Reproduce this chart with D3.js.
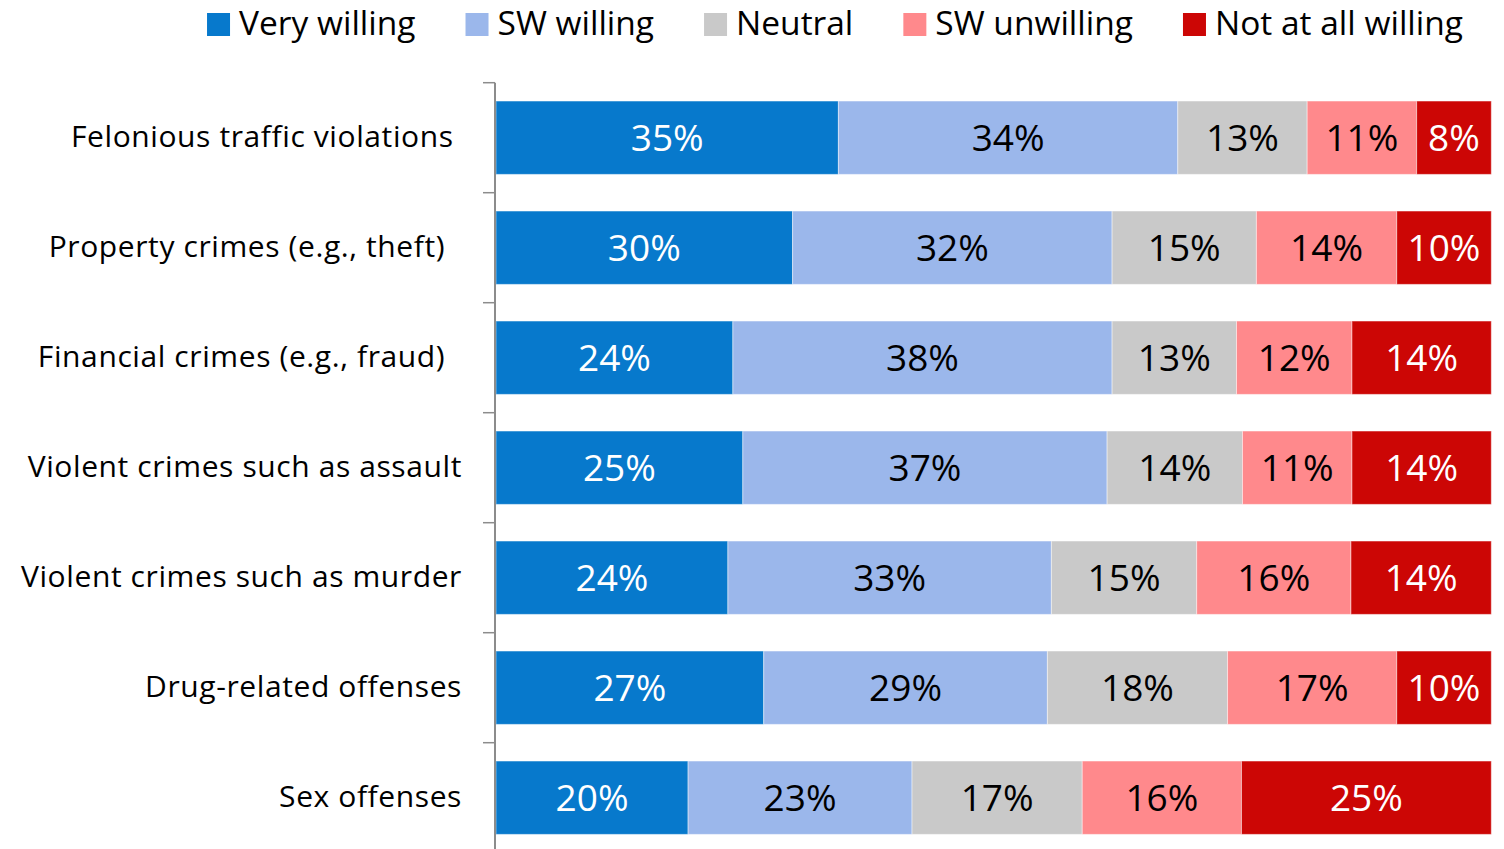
<!DOCTYPE html>
<html>
<head>
<meta charset="utf-8">
<script src="https://cdn.jsdelivr.net/npm/d3@7"></script>
<style>
  body { margin: 0; background: #fff; }
  svg { display: block; font-family: "Open Sans", sans-serif; }
  .cat { white-space: pre; }
</style>
</head>
<body>
<svg id="chart" width="1504" height="849"></svg>
<script>
// data (segment widths in % of the bar; labels as printed)
var categories = ['Felonious traffic violations', 'Property crimes (e.g., theft)', 'Financial crimes (e.g., fraud)',
	'Violent crimes such as assault', 'Violent crimes such as murder', 'Drug-related offenses', 'Sex offenses'];
var catLabels = ['Felonious traffic violations\u00a0', 'Property crimes (e.g., theft)\u00a0\u00a0', 'Financial crimes (e.g., fraud)\u00a0\u00a0',
	'Violent crimes such as assault', 'Violent crimes such as murder', 'Drug-related offenses', 'Sex offenses'];
var seriesNames = ['Very willing', 'SW willing', 'Neutral', 'SW unwilling', 'Not at all willing'];
var veryWilling   = [34.4, 29.8, 23.8, 24.8, 23.3, 26.9, 19.3];
var swWilling     = [34.1, 32.1, 38.1, 36.6, 32.5, 28.5, 22.5];
var neutral       = [13.0, 14.5, 12.5, 13.6, 14.6, 18.1, 17.1];
var swUnwilling   = [11.0, 14.1, 11.6, 11.0, 15.5, 17.0, 16.0];
var notAtAll      = [ 7.5,  9.5, 14.0, 14.0, 14.1,  9.5, 25.1];
var valueLabels = [
	['35%', '30%', '24%', '25%', '24%', '27%', '20%'],
	['34%', '32%', '38%', '37%', '33%', '29%', '23%'],
	['13%', '15%', '13%', '14%', '15%', '18%', '17%'],
	['11%', '14%', '12%', '11%', '16%', '17%', '16%'],
	['8%', '10%', '14%', '14%', '14%', '10%', '25%']
];

var COLORS = ['#0779cc', '#9bb7eb', '#c9c9c9', '#ff898c', '#cc0605'],
	TEXT_COLORS = ['#fff', '#000', '#000', '#000', '#fff'];

var svg = d3.select('#chart');
var m = {t:82.7, l:496, r:12.7},
	W = 1504;

// table for d3.stack
var table = categories.map(function(c, i){
	return {cat:c, s0:veryWilling[i], s1:swWilling[i], s2:neutral[i], s3:swUnwilling[i], s4:notAtAll[i]};
});
var keys = ['s0', 's1', 's2', 's3', 's4'];
var stacked = d3.stack().keys(keys)(table);

var scaleX = d3.scaleLinear().domain([0, 100]).range([m.l, W - m.r]);
var scaleY = d3.scaleBand().domain(categories)
	.range([m.t, m.t + 110 * categories.length])
	.paddingInner(1/3).paddingOuter(1/6);
var bandY = d3.scaleBand().domain(categories).range(scaleY.range());

// bars
var layers = svg.append('g').attr('class', 'bars')
	.selectAll('.layer').data(stacked)
	.enter().append('g').attr('class', 'layer')
	.attr('fill', function(d, i){ return COLORS[i]; });

layers.selectAll('rect')
	.data(function(d){ return d; })
	.enter().append('rect')
	.attr('x', function(d){ return scaleX(d[0]); })
	.attr('y', function(d){ return scaleY(d.data.cat); })
	.attr('width', function(d){ return scaleX(d[1]) - scaleX(d[0]); })
	.attr('height', scaleY.bandwidth())
	.attr('stroke', '#fff').attr('stroke-opacity', 0.45).attr('stroke-width', 1);

// segment labels
layers.each(function(layer, li){
	d3.select(this).selectAll('text')
		.data(layer)
		.enter().append('text')
		.attr('x', function(d){ return (scaleX(d[0]) + scaleX(d[1])) / 2; })
		.attr('y', function(d){ return scaleY(d.data.cat) + scaleY.bandwidth() / 2; })
		.attr('dy', '0.36em')
		.attr('text-anchor', 'middle')
		.attr('font-size', 37)
		.attr('fill', TEXT_COLORS[li])
		.text(function(d, i){ return valueLabels[li][i]; });
});

// y axis: line with ticks at category boundaries
var axisX = m.l - 1;
var axis = svg.append('g').attr('class', 'axis-y');
axis.append('line')
	.attr('x1', axisX).attr('x2', axisX)
	.attr('y1', bandY.range()[0]).attr('y2', bandY.range()[1])
	.attr('stroke', '#8c8c8c').attr('stroke-width', 2);
axis.selectAll('.tick')
	.data(categories)
	.enter().append('line').attr('class', 'tick')
	.attr('x1', axisX - 12).attr('x2', axisX)
	.attr('y1', function(d){ return bandY(d); })
	.attr('y2', function(d){ return bandY(d); })
	.attr('stroke', '#8c8c8c').attr('stroke-width', 1.5);

axis.selectAll('.cat')
	.data(categories)
	.enter().append('text').attr('class', 'cat')
	.attr('x', axisX - 33)
	.attr('y', function(d){ return scaleY(d) + scaleY.bandwidth() / 2; })
	.attr('dy', '0.3em')
	.attr('text-anchor', 'end')
	.attr('font-size', 30)
	.attr('letter-spacing', 0.6)
	.attr('fill', '#000')
	.text(function(d, i){ return catLabels[i]; });

// legend, right aligned
var legend = svg.append('g').attr('class', 'legend');
var items = legend.selectAll('.item').data(seriesNames)
	.enter().append('g').attr('class', 'item');
items.append('rect')
	.attr('width', 23).attr('height', 23).attr('y', 13)
	.attr('fill', function(d, i){ return COLORS[i]; });
items.append('text')
	.attr('x', 32).attr('y', 35)
	.attr('font-size', 33.5)
	.attr('fill', '#000')
	.text(function(d){ return d; });

var widths = [];
items.each(function(){ widths.push(32 + d3.select(this).select('text').node().getComputedTextLength()); });
var LEGEND_RIGHT = 1463, GAP = 50;
var cursor = LEGEND_RIGHT - d3.sum(widths) - GAP * (widths.length - 1);
items.attr('transform', function(d, i){
	var x = cursor;
	cursor += widths[i] + GAP;
	return 'translate(' + x + ',0)';
});
</script>
</body>
</html>
